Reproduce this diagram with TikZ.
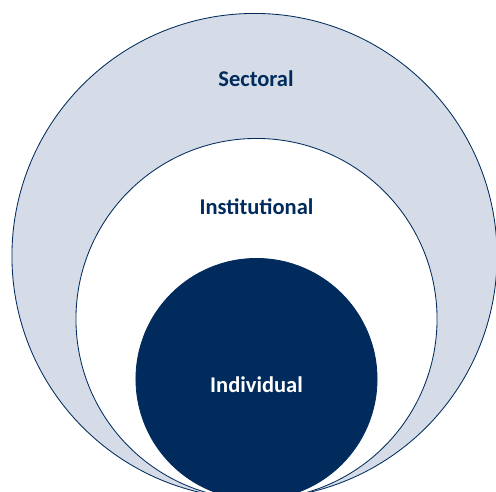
\documentclass[tikz,border=0pt]{standalone}
\usepackage{fontspec}
\setmainfont{Carlito}
\usetikzlibrary{positioning}
\definecolor{navy}{RGB}{0,43,92}
\definecolor{paleblue}{RGB}{213,220,231}

\begin{document}
\begin{tikzpicture}[x=0.025cm, y=-0.025cm,
  ring/.style={circle, draw=navy, line width=0.6pt, inner sep=0pt},
  lbl/.style={font=\bfseries\fontsize{16}{18}\selectfont, text=navy}]
\useasboundingbox (0,0) rectangle (496,492);
\clip (0,0) rectangle (496,492);
% circles %
\node[ring, fill=paleblue, minimum size=12.125cm] (sectoral) at (254.5,256) {};
\node[ring, fill=white, minimum size=9.025cm] (institutional) at (256.5,319) {};
\node[ring, fill=navy, minimum size=6.025cm] (individual) at (256.5,379) {};
% labels %
\node[lbl] (sectoraltext) at (256,79) {Sectoral};
\node[lbl] (institutionaltext) at (256.5,207) {Institutional};
\node[lbl, text=white] (individualtext) at (256.5,385) {Individual};
\end{tikzpicture}
\end{document}
